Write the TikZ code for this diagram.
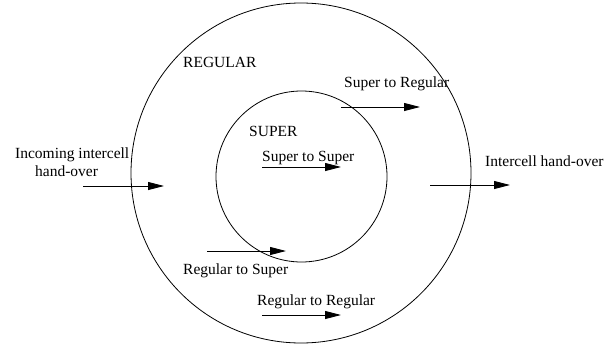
\documentclass[tikz,border=0pt]{standalone}
\usepackage{fontspec}
\setmainfont{Liberation Serif}
\usetikzlibrary{arrows.meta}
\begin{document}
\begin{tikzpicture}[x=1pt,y=1pt,
  ring/.style={draw,circle,line width=0.8pt,inner sep=0pt},
  lbl/.style={anchor=base west,inner sep=0pt,font=\fontsize{15.5}{18}\selectfont},
  flow/.style={line width=0.9pt,-{Triangle[length=16pt,width=8pt]}}]
\useasboundingbox (0,0) rectangle (615,349);
% circles
\node[ring,minimum size=340pt] (outer) at (301,176) {};
\node[ring,minimum size=171pt] (inner) at (301.5,172.5) {};
% labels
\node[lbl] (regular) at (183,281.3) {REGULAR};
\node[lbl] (super) at (249,212.3) {SUPER};
\node[lbl] (s2r) at (344,261.7) {Super to Regular};
\node[lbl] (s2s) at (262,187.3) {Super to Super};
\node[lbl] (r2s) at (183,74.7) {Regular to Super};
\node[lbl] (r2r) at (257,44) {Regular to Regular};
\node[lbl] (ic) at (485,182.3) {Intercell hand-over};
\node[lbl,align=left] (inc) at (15,172.8) {Incoming intercell\\\hspace*{20pt}hand-over};
% arrow endpoints
\coordinate (a1) at (83,163);
\coordinate (b1) at (164,163);
\coordinate (a2) at (430,164);
\coordinate (b2) at (510,164);
\coordinate (a3) at (341,242);
\coordinate (b3) at (420,242);
\coordinate (a4) at (262,182);
\coordinate (b4) at (341,182);
\coordinate (a5) at (207,98);
\coordinate (b5) at (286,98);
\coordinate (a6) at (262,34);
\coordinate (b6) at (341,34);
\draw[flow] (a1) -- (b1);
\draw[flow] (a2) -- (b2);
\draw[flow] (a3) -- (b3);
\draw[flow] (a4) -- (b4);
\draw[flow] (a5) -- (b5);
\draw[flow] (a6) -- (b6);
\end{tikzpicture}
\end{document}
